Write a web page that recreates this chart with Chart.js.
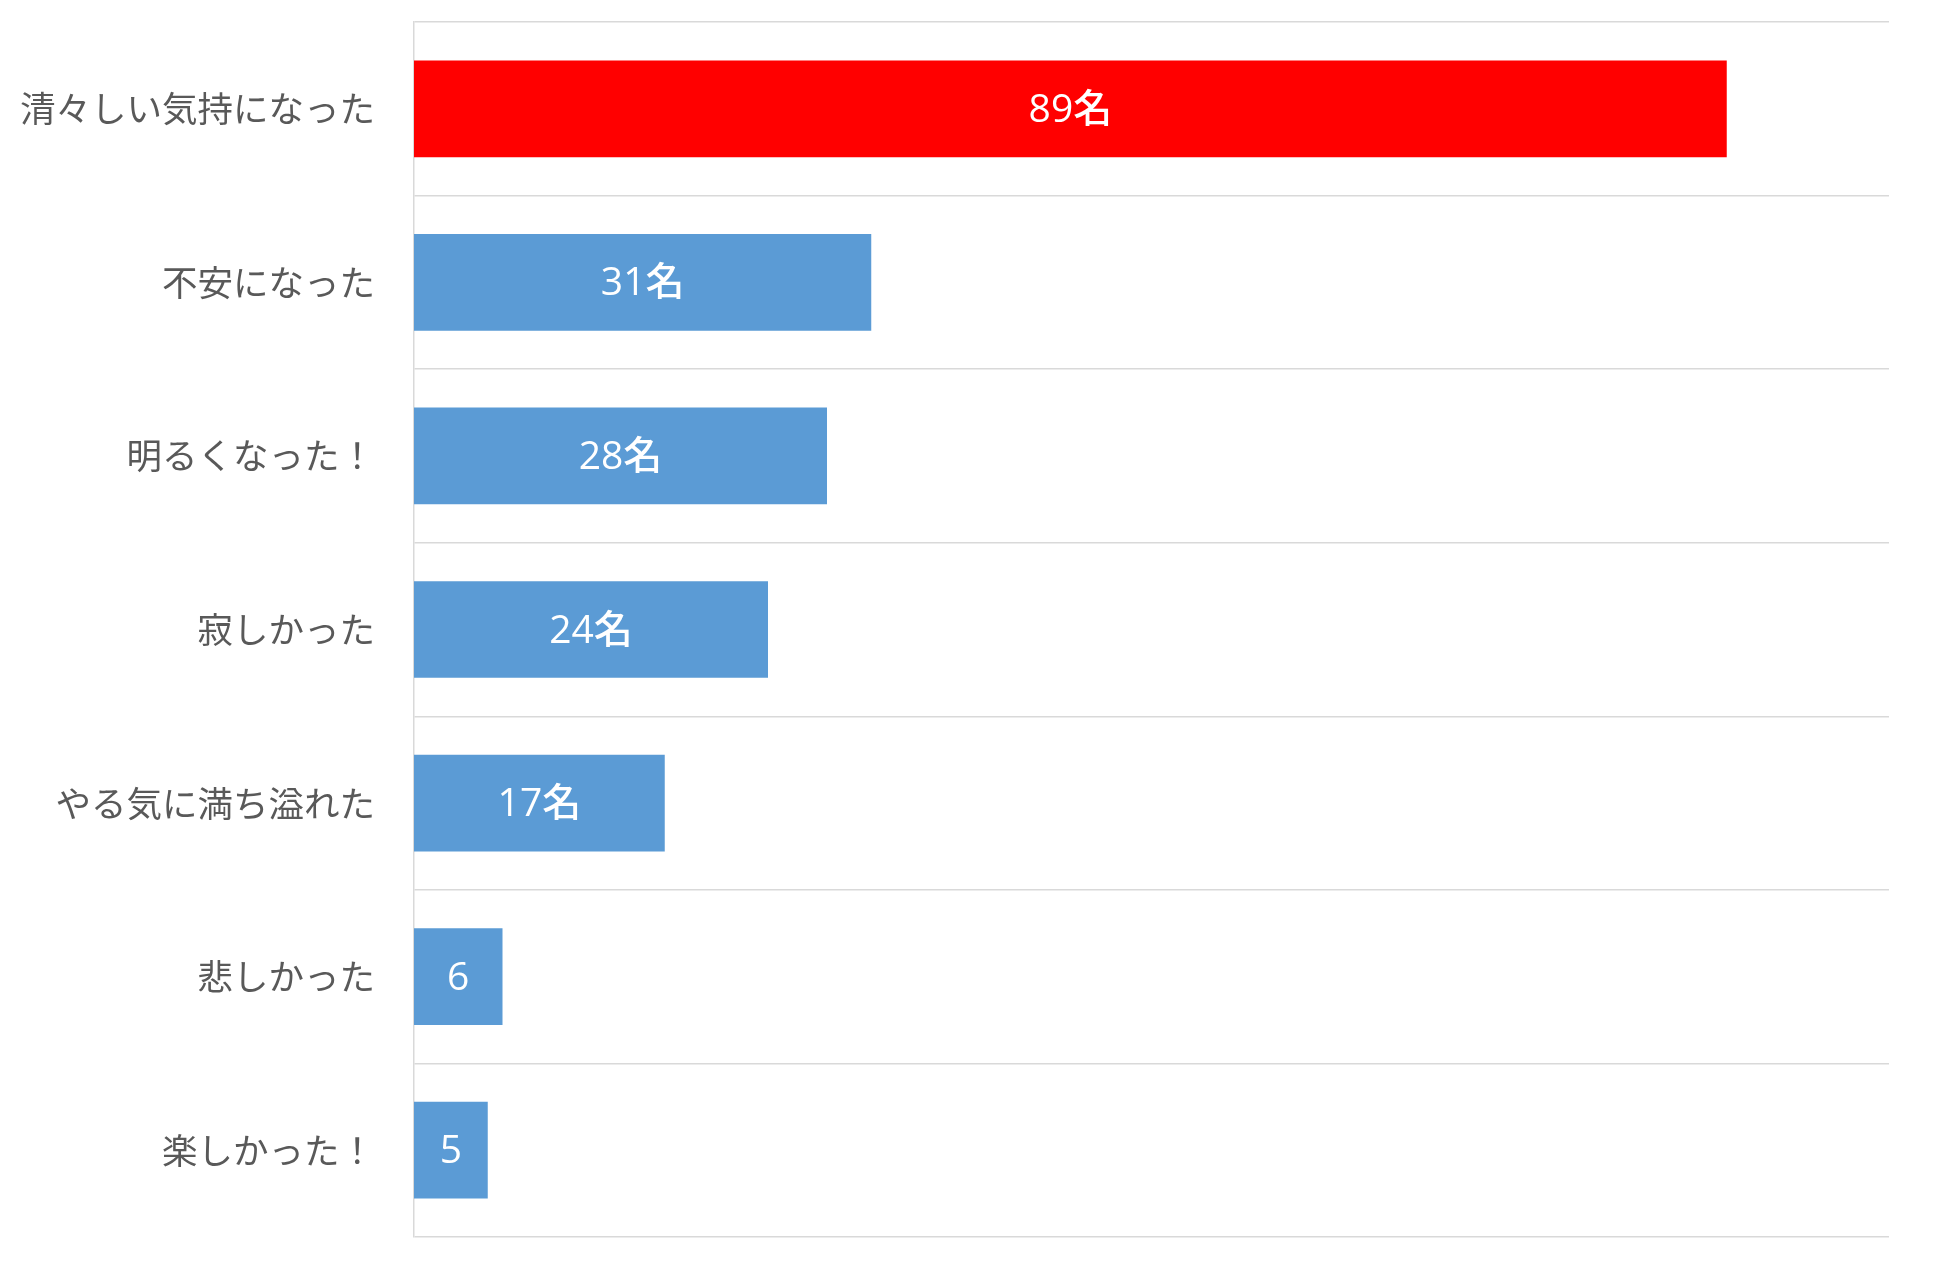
<!DOCTYPE html>
<html>
<head>
<meta charset="utf-8">
<script src="https://cdn.jsdelivr.net/npm/chart.js@4/dist/chart.umd.min.js"></script>
<style>
  html, body { margin: 0; padding: 0; background: #fff; }
  #wrap { width: 1936px; height: 1263px; }
</style>
</head>
<body>
<div id="wrap"><canvas id="myChart"></canvas></div>
<script>
var categories = ["清々しい気持になった", "不安になった", "明るくなった！", "寂しかった", "やる気に満ち溢れた", "悲しかった", "楽しかった！"];
var counts = [89, 31, 28, 24, 17, 6, 5];
var valueLabels = ["89名", "31名", "28名", "24名", "17名", "6", "5"];
var barColors = ["#FF0000", "#5B9BD5", "#5B9BD5", "#5B9BD5", "#5B9BD5", "#5B9BD5", "#5B9BD5"];
var axisMax = 100;

// white count text in the middle of each bar
var barText = {
    id: 'barText',
    afterDatasetsDraw: function(chart) {
        var ctx = chart.ctx;
        var meta = chart.getDatasetMeta(0);
        ctx.save();
        ctx.fillStyle = "#FFFFFF";
        ctx.font = "500 39px 'Open Sans', 'Noto Sans CJK JP', sans-serif";
        ctx.textAlign = "center";
        ctx.textBaseline = "middle";
        meta.data.forEach(function(bar, i) {
            var cx = (bar.base + bar.x) / 2;
            ctx.fillText(valueLabels[i], cx, bar.y + 2);
        });
        ctx.restore();
    }
};

var ctx = document.getElementById("myChart").getContext('2d');
var myBarChart = new Chart(ctx, {
    type: 'bar',
    data: {
        labels: categories,
        datasets: [{
            data: counts,
            backgroundColor: barColors,
            borderWidth: 0,
            categoryPercentage: 0.557,
            barPercentage: 1.0
        }]
    },
    options: {
        indexAxis: 'y',
        responsive: true,
        maintainAspectRatio: false,
        animation: false,
        layout: { padding: { left: 0, right: 47, top: 22, bottom: 26 } },
        plugins: {
            legend: { display: false },
            tooltip: { enabled: false }
        },
        scales: {
            x: {
                display: false,
                min: 0,
                max: axisMax
            },
            y: {
                afterFit: function(scale) {
                    scale.width = 414;
                    scale.paddingTop = 0;
                    scale.paddingBottom = 0;
                },
                grid: {
                    offset: true,
                    color: "#D9D9D9",
                    lineWidth: 1.5,
                    drawTicks: false
                },
                border: { color: "#D9D9D9", width: 1.5 },
                ticks: {
                    padding: 39,
                    color: "#595959",
                    font: { family: "'Noto Sans CJK JP', sans-serif", size: 35.5 }
                }
            }
        }
    },
    plugins: [barText]
});
</script>
</body>
</html>
